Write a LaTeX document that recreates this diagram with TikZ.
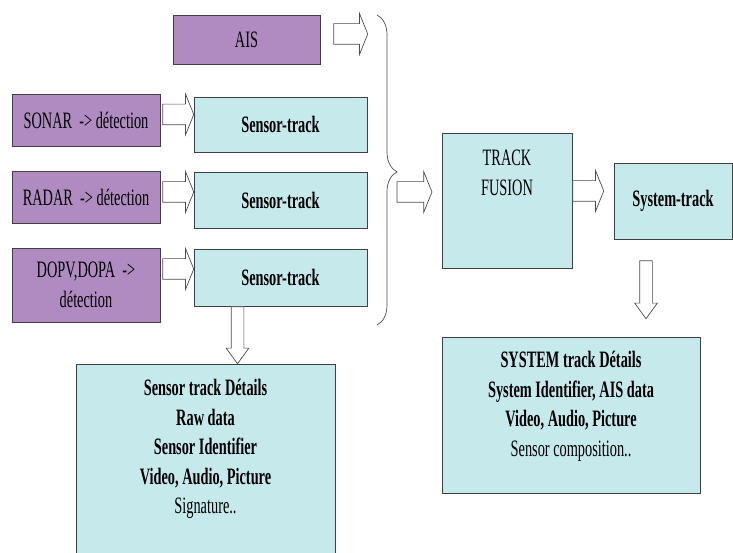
\documentclass[tikz,border=0pt]{standalone}
\usepackage{fontspec}
\setmainfont[FakeStretch=0.61]{Liberation Serif}
\usetikzlibrary{shapes.arrows,decorations.pathreplacing}
\definecolor{sensorpurple}{HTML}{B08BC2}
\definecolor{trackcyan}{HTML}{C6E9EC}
\newcommand{\boxFont}[0]{\fontsize{23.5}{29.5}\selectfont}

\begin{document}
\begin{tikzpicture}[x=1pt, y=1pt, inner sep=0pt, every node/.style={font=\boxFont}]
  \tikzset{srcbox/.style={draw=black!75, fill=sensorpurple, line width=0.8pt, align=center},
    trkbox/.style={draw=black!75, fill=trackcyan, line width=0.8pt, align=center},
    blockarrow/.style={single arrow, draw=black!70, fill=white, line width=0.7pt, anchor=tail,
      inner xsep=0pt, inner ysep=10pt, single arrow head extend=10, single arrow tip angle=136},
    downarrow/.style={blockarrow, inner ysep=6pt, single arrow head extend=5,
      single arrow tip angle=72, rotate=-90}}
  \useasboundingbox (0,0) rectangle (733,552);
  % sources
  \node[srcbox, minimum width=147, minimum height=49] (ais) at (246.5,512.5) {AIS};
  \node[srcbox, minimum width=148, minimum height=52] (sonar) at (86,432) {SONAR\ \ -> détection};
  \node[srcbox, minimum width=148, minimum height=52] (radar) at (86,355) {RADAR\ \ -> détection};
  \node[srcbox, minimum width=148, minimum height=74] (dopv) at (86,267) {DOPV,DOPA\ \ ->\\détection};
  % sensor tracks
  \node[trkbox, minimum width=173, minimum height=55, font=\boxFont\bfseries] (st1) at (280.5,427.5) {Sensor-track};
  \node[trkbox, minimum width=173, minimum height=56, font=\boxFont\bfseries] (st2) at (280.5,352) {Sensor-track};
  \node[trkbox, minimum width=173, minimum height=57, font=\boxFont\bfseries] (st3) at (280.5,274.5) {Sensor-track};
  \node[trkbox, minimum width=259, minimum height=200] (sdet) at (205.5,88) {};
  \node[align=center] (sdettext) at (205.5,103) {\textbf{Sensor track Détails}\\\textbf{Raw data}\\
    \textbf{Sensor Identifier}\\\textbf{Video, Audio, Picture}\\Signature..};
  % fusion
  \node[trkbox, minimum width=130, minimum height=135] (fusion) at (507,351.5) {};
  \node[align=center] (fusiontext) at (507,379) {TRACK\\FUSION};
  \node[trkbox, minimum width=118, minimum height=76, font=\boxFont\bfseries] (systrack) at (673,351) {System-track};
  \node[trkbox, minimum width=258, minimum height=156] (ydet) at (571,137) {};
  \node[align=center] (ydettext) at (571,145.5) {\textbf{SYSTEM track Détails}\\\textbf{System Identifier, AIS data}\\
    \textbf{Video, Audio, Picture}\\Sensor composition..};
  % block arrows
  \node[blockarrow, minimum height=34] (aisarrow) at ([xshift=13, yshift=5.5]ais.east) {};
  \node[blockarrow, minimum height=31] (sonararrow) at ([xshift=2, yshift=5.5]sonar.east) {};
  \node[blockarrow, minimum height=31] (radararrow) at ([xshift=2, yshift=5]radar.east) {};
  \node[blockarrow, minimum height=31] (dopvarrow) at ([xshift=2, yshift=16]dopv.east) {};
  \node[downarrow, minimum height=57] (st3arrow) at ([xshift=-43]st3.south) {};
  \draw[black!70, line width=0.7pt, decorate, decoration={brace, amplitude=20, aspect=0.506}]
    (377,537) coordinate (bracetop) -- (377,227) coordinate (bracebot);
  \node[blockarrow, minimum height=35] (bracearrow) at ([xshift=-45, yshift=8.5]fusion.west) {};
  \node[blockarrow, minimum height=31] (fusionarrow) at ([yshift=9.5]fusion.east) {};
  \node[downarrow, minimum height=58] (sysarrow) at ([xshift=-27, yshift=-21]systrack.south) {};
\end{tikzpicture}
\end{document}
